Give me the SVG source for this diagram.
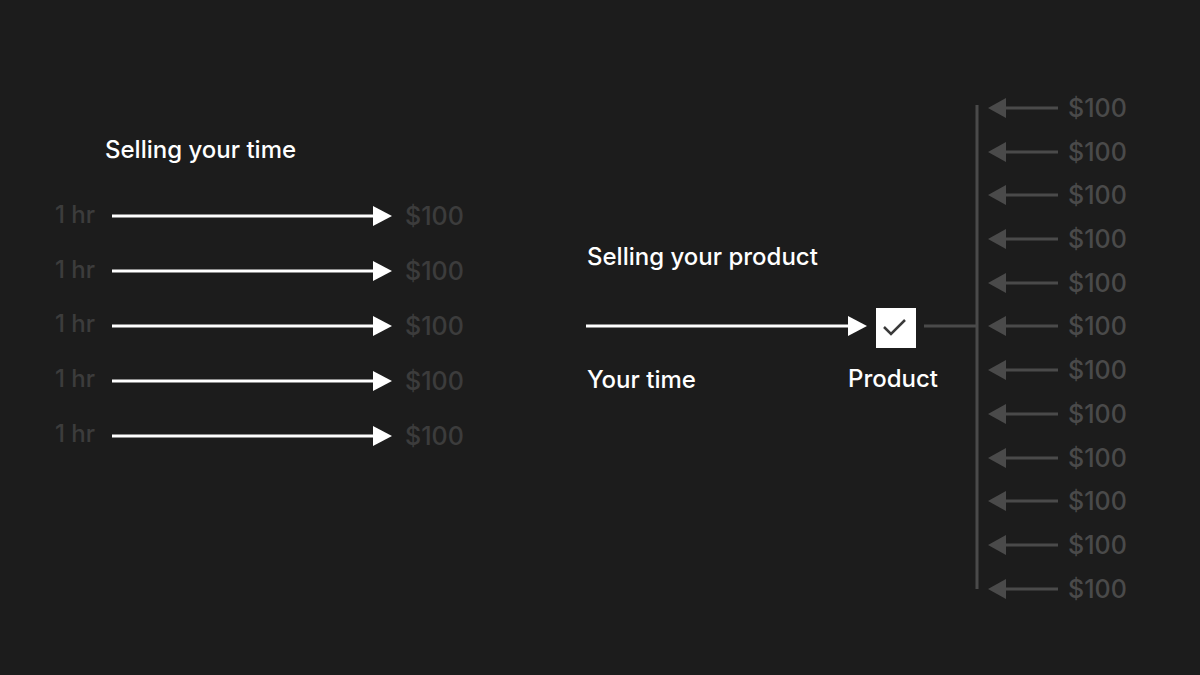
<svg xmlns="http://www.w3.org/2000/svg" width="1200" height="675" viewBox="0 0 1200 675">
<defs>
<style>
.t{font-family:Inter,"Liberation Sans",sans-serif;font-weight:500}
.head{fill:#ffffff;font-size:24px}
.dim{fill:#3c3c3c;font-size:24px}
.rdim{fill:#4a4a4a;font-size:24px}
.d{font-size:25px}
.wl{stroke:#ffffff;stroke-width:3}
.gl{stroke:#4a4a4a;stroke-width:3}
</style>
<marker id="wa" markerUnits="userSpaceOnUse" markerWidth="20" markerHeight="20" viewBox="0 0 20 20" refX="0" refY="10" orient="auto"><path d="M0,0 L19,10 L0,20 Z" fill="#ffffff"/></marker>
<marker id="ga" markerUnits="userSpaceOnUse" markerWidth="20" markerHeight="20" viewBox="0 0 20 20" refX="0" refY="10" orient="auto"><path d="M0,0 L18,10 L0,20 Z" fill="#4a4a4a"/></marker>
</defs>
<rect width="1200" height="675" fill="#1c1c1c"/>
<g id="title-time"><text class="t head" x="105" y="158">Selling your time</text></g>
<g id="title-product"><text class="t head" x="587" y="265">Selling your product</text></g>
<g id="hours" class="t dim">
<text x="55" y="223">1 hr</text>
<text x="55" y="278">1 hr</text>
<text x="55" y="332">1 hr</text>
<text x="55" y="387">1 hr</text>
<text x="55" y="442">1 hr</text>
</g>
<g id="left-dollars" class="t dim d">
<text x="405" y="225">$100</text>
<text x="405" y="280">$100</text>
<text x="405" y="335">$100</text>
<text x="405" y="390">$100</text>
<text x="405" y="445">$100</text>
</g>
<g id="your-time"><text class="t head" x="587" y="388">Your time</text></g>
<g id="product">
<rect x="876" y="308" width="40" height="40" fill="#ffffff"/>
<path d="M884,327 L891,334 L905,320" fill="none" stroke="#3a3a3a" stroke-width="2.5"/>
<text class="t head" x="848" y="387">Product</text>
</g>
<g id="right-dollars" class="t rdim d">
<text x="1068" y="117">$100</text>
<text x="1068" y="161">$100</text>
<text x="1068" y="204">$100</text>
<text x="1068" y="248">$100</text>
<text x="1068" y="292">$100</text>
<text x="1068" y="335">$100</text>
<text x="1068" y="379">$100</text>
<text x="1068" y="423">$100</text>
<text x="1068" y="467">$100</text>
<text x="1068" y="510">$100</text>
<text x="1068" y="554">$100</text>
<text x="1068" y="598">$100</text>
</g>
<g id="connectors">
<line class="wl" x1="112" y1="216" x2="373" y2="216" marker-end="url(#wa)"/>
<line class="wl" x1="112" y1="271" x2="373" y2="271" marker-end="url(#wa)"/>
<line class="wl" x1="112" y1="326" x2="373" y2="326" marker-end="url(#wa)"/>
<line class="wl" x1="112" y1="381" x2="373" y2="381" marker-end="url(#wa)"/>
<line class="wl" x1="112" y1="436" x2="373" y2="436" marker-end="url(#wa)"/>
<line class="wl" x1="586" y1="326" x2="848" y2="326" marker-end="url(#wa)"/>
<line class="gl" x1="924" y1="326" x2="977" y2="326"/>
<line class="gl" x1="977" y1="105" x2="977" y2="589"/>
<line class="gl" x1="1058" y1="108" x2="1006" y2="108" marker-end="url(#ga)"/>
<line class="gl" x1="1058" y1="152" x2="1006" y2="152" marker-end="url(#ga)"/>
<line class="gl" x1="1058" y1="195" x2="1006" y2="195" marker-end="url(#ga)"/>
<line class="gl" x1="1058" y1="239" x2="1006" y2="239" marker-end="url(#ga)"/>
<line class="gl" x1="1058" y1="283" x2="1006" y2="283" marker-end="url(#ga)"/>
<line class="gl" x1="1058" y1="326" x2="1006" y2="326" marker-end="url(#ga)"/>
<line class="gl" x1="1058" y1="370" x2="1006" y2="370" marker-end="url(#ga)"/>
<line class="gl" x1="1058" y1="414" x2="1006" y2="414" marker-end="url(#ga)"/>
<line class="gl" x1="1058" y1="458" x2="1006" y2="458" marker-end="url(#ga)"/>
<line class="gl" x1="1058" y1="501" x2="1006" y2="501" marker-end="url(#ga)"/>
<line class="gl" x1="1058" y1="545" x2="1006" y2="545" marker-end="url(#ga)"/>
<line class="gl" x1="1058" y1="589" x2="1006" y2="589" marker-end="url(#ga)"/>
</g>
</svg>
